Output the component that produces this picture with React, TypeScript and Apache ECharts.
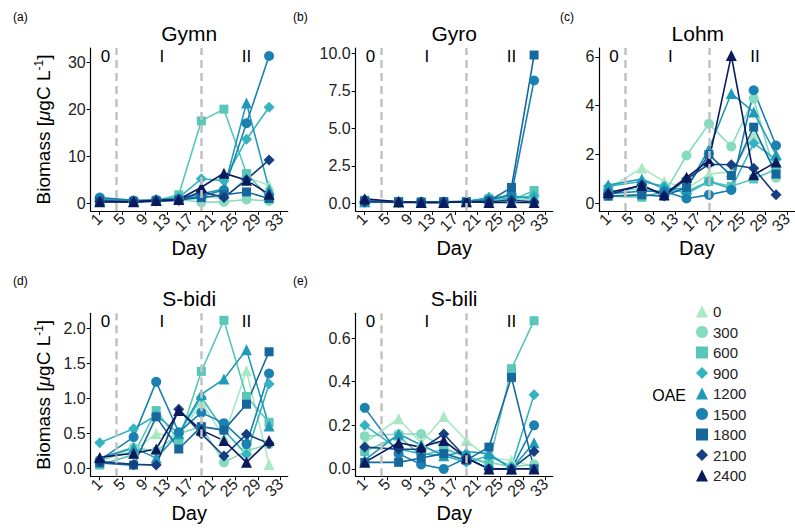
import React, { useEffect, useRef } from "react";
import * as echarts from "echarts";

// ---------- data ----------
const DAYS = [1, 7, 11, 15, 19, 23, 27, 31];
const OAE_LEVELS = ["0", "300", "600", "900", "1200", "1500", "1800", "2100", "2400"];
const X_TICKS = [1, 5, 9, 13, 17, 21, 25, 29, 33];
const PHASE_LINES = [4, 19];
const PHASE_LABELS = ["0", "I", "II"];
const PHASE_LABEL_DAYS = [2, 12, 27];

// rows follow OAE_LEVELS order, columns follow DAYS
const GYMN = [
  [0.8, 0.5, 0.7, 1.5, 1.5, 1.0, 5.5, 3.8],
  [1.0, 0.4, 0.5, 0.8, 0.2, 0.3, 0.8, 0.5],
  [0.6, 0.3, 0.6, 1.8, 17.5, 20.0, 6.3, 1.2],
  [0.9, 0.4, 0.8, 1.2, 5.2, 4.8, 13.6, 20.4],
  [0.7, 0.5, 0.6, 1.0, 2.0, 3.0, 21.3, 3.0],
  [1.2, 0.6, 0.7, 0.9, 1.5, 2.8, 17.0, 31.3],
  [0.5, 0.3, 0.4, 0.7, 1.2, 1.8, 2.4, 1.0],
  [0.4, 0.3, 0.5, 0.6, 2.5, 1.2, 5.0, 9.2],
  [0.3, 0.3, 0.6, 0.8, 3.4, 6.4, 4.9, 1.9],
];
const GYRO = [
  [0.1, 0.05, 0.05, 0.05, 0.1, 0.2, 0.1, 0.3],
  [0.15, 0.1, 0.05, 0.05, 0.1, 0.2, 0.15, 0.4],
  [0.2, 0.1, 0.1, 0.1, 0.1, 0.3, 0.2, 0.85],
  [0.05, 0.1, 0.05, 0.05, 0.1, 0.4, 0.3, 0.5],
  [0.1, 0.1, 0.1, 0.1, 0.15, 0.3, 0.5, 0.3],
  [0.2, 0.1, 0.1, 0.1, 0.1, 0.2, 0.6, 8.2],
  [0.15, 0.1, 0.05, 0.1, 0.1, 0.15, 1.05, 9.9],
  [0.1, 0.05, 0.05, 0.05, 0.1, 0.1, 0.2, 0.1],
  [0.3, 0.1, 0.05, 0.05, 0.1, 0.05, 0.05, 0.05],
];
const LOHM = [
  [0.6, 1.45, 0.9, 0.6, 1.2, 1.3, 2.8, 1.6],
  [0.5, 0.6, 0.4, 1.96, 3.26, 2.33, 4.29, 1.05],
  [0.3, 0.25, 0.5, 0.5, 0.9, 0.7, 1.0, 1.4],
  [0.7, 0.9, 0.7, 0.4, 0.9, 0.6, 2.46, 1.8],
  [0.75, 1.0, 0.6, 0.6, 2.23, 4.5, 3.74, 2.0],
  [0.4, 0.5, 0.5, 0.2, 0.35, 0.55, 4.63, 2.37],
  [0.3, 0.35, 0.3, 0.66, 2.0, 1.14, 3.12, 1.2],
  [0.35, 0.75, 0.3, 1.0, 1.6, 1.58, 1.44, 0.35],
  [0.45, 0.73, 0.36, 1.07, 1.75, 6.05, 1.17, 1.69],
];
const SBIDI = [
  [0.12, 0.25, 0.5, 0.45, 0.95, 0.45, 1.4, 0.06],
  [0.1, 0.3, 0.25, 0.5, 0.6, 0.09, 0.25, 0.35],
  [0.05, 0.2, 0.83, 0.4, 1.39, 2.12, 1.03, 0.66],
  [0.37, 0.57, 0.76, 0.5, 1.02, 0.55, 0.2, 1.21],
  [0.15, 0.3, 0.15, 0.5, 1.06, 1.28, 1.7, 0.61],
  [0.12, 0.45, 1.24, 0.52, 0.8, 0.65, 0.35, 1.36],
  [0.08, 0.05, 0.74, 0.28, 0.6, 0.55, 0.92, 1.67],
  [0.1, 0.06, 0.05, 0.85, 0.5, 0.18, 0.49, 0.36],
  [0.16, 0.22, 0.28, 0.83, 0.55, 0.4, 0.09, 0.4],
];
const SBILI = [
  [0.12, 0.23, 0.12, 0.24, 0.13, 0.05, 0.04, 0.01],
  [0.15, 0.16, 0.16, 0.1, 0.05, 0.03, 0.01, 0.02],
  [0.08, 0.15, 0.06, 0.09, 0.06, 0.02, 0.46, 0.68],
  [0.2, 0.09, 0.07, 0.06, 0.03, 0.06, 0.01, 0.34],
  [0.04, 0.16, 0.11, 0.06, 0.08, 0.07, 0.0, 0.12],
  [0.28, 0.07, 0.02, 0.0, 0.05, 0.0, 0.0, 0.2],
  [0.03, 0.03, 0.05, 0.07, 0.04, 0.1, 0.42, 0.0],
  [0.1, 0.09, 0.09, 0.16, 0.05, 0.0, 0.0, 0.08],
  [0.03, 0.12, 0.1, 0.13, 0.05, 0.0, 0.0, 0.0],
];

const GYMN_TICKS = [0, 10, 20, 30];
const GYRO_TICKS = [0, 2.5, 5, 7.5, 10];
const LOHM_TICKS = [0, 2, 4, 6];
const SBIDI_TICKS = [0, 0.5, 1, 1.5, 2];
const SBILI_TICKS = [0, 0.2, 0.4, 0.6];

// ---------- styling ----------
const COLORS = ["#a8e8c2", "#84dbbf", "#58c6b9", "#34b3c0", "#1f9bb9", "#1b81b1", "#17679f", "#143f80", "#0b1a5c"];
const SYMBOLS = ["triangle", "circle", "rect", "diamond", "triangle", "circle", "rect", "diamond", "triangle"];
const SYMBOL_SIZES: Record<string, number> = { triangle: 11, circle: 10, rect: 9, diamond: 11 };
const FONT = "'Liberation Sans', Arial, Helvetica, sans-serif";
const PW = 197;
const PH = 163;

const PANELS = [
  { title: "Gymn", tag: "(a)", tagX: 13, tagY: 17, left: 90.7, top: 48, ymin: -1.65, ymax: 33.0, ticks: GYMN_TICKS, dec: 0, data: GYMN, ylab: true },
  { title: "Gyro", tag: "(b)", tagX: 293, tagY: 17, left: 355.7, top: 48, ymin: -0.52, ymax: 10.37, ticks: GYRO_TICKS, dec: 1, data: GYRO, ylab: false },
  { title: "Lohm", tag: "(c)", tagX: 560, tagY: 17, left: 599.3, top: 48, ymin: -0.31, ymax: 6.36, ticks: LOHM_TICKS, dec: 0, data: LOHM, ylab: false },
  { title: "S-bidi", tag: "(d)", tagX: 13, tagY: 281, left: 90.7, top: 313.3, ymin: -0.11, ymax: 2.22, ticks: SBIDI_TICKS, dec: 1, data: SBIDI, ylab: true },
  { title: "S-bili", tag: "(e)", tagX: 293, tagY: 281, left: 355.7, top: 313.3, ymin: -0.034, ymax: 0.714, ticks: SBILI_TICKS, dec: 1, data: SBILI, ylab: false },
];
const XMIN = -0.6;
const XMAX = 34.3;

export default function App() {
  const ref = useRef<HTMLDivElement>(null);
  useEffect(() => {
    if (!ref.current) return;
    const chart = echarts.init(ref.current, null, { renderer: "svg" });

    const grids: any[] = [];
    const xAxes: any[] = [];
    const yAxes: any[] = [];
    const series: any[] = [];
    const graphics: any[] = [];

    PANELS.forEach((p, pi) => {
      grids.push({ left: p.left, top: p.top, width: PW, height: PH, containLabel: false });
      xAxes.push({
        type: "value",
        gridIndex: pi,
        min: XMIN,
        max: XMAX,
        name: "Day",
        nameLocation: "middle",
        nameGap: 27,
        nameTextStyle: { fontSize: 20, color: "#000", fontFamily: FONT },
        axisLine: { show: true, onZero: false, lineStyle: { color: "#000", width: 1.2 } },
        axisTick: { show: true, length: 4, customValues: X_TICKS, lineStyle: { color: "#000", width: 1 } },
        axisLabel: {
          customValues: X_TICKS,
          rotate: 45,
          margin: 5,
          fontSize: 16,
          color: "#222",
          fontFamily: FONT,
        },
        splitLine: { show: false },
      });
      yAxes.push({
        type: "value",
        gridIndex: pi,
        min: p.ymin,
        max: p.ymax,
        name: p.ylab ? "{a|Biomass [}{mu|μ}{a|gC L}{sup|-1}{a|]}" : "",
        nameLocation: "middle",
        nameGap: 36,
        nameRotate: 90,
        nameTextStyle: {
          fontFamily: FONT,
          color: "#000",
          rich: {
            a: { fontSize: 19, fontFamily: FONT, color: "#000", lineHeight: 22 },
            mu: { fontSize: 19, fontFamily: FONT, color: "#000", fontStyle: "italic", lineHeight: 22 },
            sup: { fontSize: 12, fontFamily: FONT, color: "#000", verticalAlign: "top", lineHeight: 14 },
          },
        },
        axisLine: { show: true, onZero: false, lineStyle: { color: "#000", width: 1.2 } },
        axisTick: { show: true, length: 4, customValues: p.ticks, lineStyle: { color: "#000", width: 1 } },
        axisLabel: {
          customValues: p.ticks,
          margin: 5,
          fontSize: 16,
          color: "#222",
          fontFamily: FONT,
          formatter: (v: number) => v.toFixed(p.dec),
        },
        splitLine: { show: false },
      });

      p.data.forEach((row, si) => {
        const s: any = {
          type: "line",
          name: OAE_LEVELS[si],
          xAxisIndex: pi,
          yAxisIndex: pi,
          data: DAYS.map((d, k) => [d, row[k]]),
          symbol: SYMBOLS[si],
          symbolSize: SYMBOL_SIZES[SYMBOLS[si]],
          showAllSymbol: true,
          color: COLORS[si],
          lineStyle: { color: COLORS[si], width: 1.6 },
          itemStyle: { color: COLORS[si], opacity: 1 },
          emphasis: { disabled: true },
        };
        if (si === 0) {
          s.markLine = {
            silent: true,
            symbol: "none",
            label: { show: false },
            lineStyle: { color: "#c2c2c2", type: [8, 5], width: 2.5 },
            data: PHASE_LINES.map((v) => ({ xAxis: v })),
          };
        }
        series.push(s);
      });

      graphics.push({
        type: "text",
        x: p.left + PW / 2,
        y: p.top - 15,
        style: { text: p.title, fontSize: 21, fontFamily: FONT, fill: "#000", textAlign: "center", textVerticalAlign: "middle" },
      });
      graphics.push({
        type: "text",
        x: p.tagX,
        y: p.tagY,
        style: { text: p.tag, fontSize: 12, fontFamily: FONT, fill: "#000", textAlign: "left", textVerticalAlign: "middle" },
      });
      PHASE_LABELS.forEach((lab, li) => {
        graphics.push({
          type: "text",
          x: p.left + ((PHASE_LABEL_DAYS[li] - XMIN) / (XMAX - XMIN)) * PW,
          y: p.top + 8.5,
          style: { text: lab, fontSize: 17, fontFamily: FONT, fill: "#000", textAlign: "center", textVerticalAlign: "middle" },
        });
      });
    });

    graphics.push({
      type: "text",
      x: 686,
      y: 395,
      style: { text: "OAE", fontSize: 16, fontFamily: FONT, fill: "#000", textAlign: "right", textVerticalAlign: "middle" },
    });

    chart.setOption({
      animation: false,
      grid: grids,
      xAxis: xAxes,
      yAxis: yAxes,
      series,
      graphic: graphics,
      legend: {
        orient: "vertical",
        left: 696,
        top: 304,
        padding: 0,
        itemWidth: 12,
        itemHeight: 12,
        itemGap: 5.5,
        itemTextGap: 4,
        selectedMode: false,
        textStyle: { fontSize: 15, color: "#222", fontFamily: FONT },
        data: OAE_LEVELS.map((n, i) => ({ name: n, icon: SYMBOLS[i] })),
      },
    });

    return () => chart.dispose();
  }, []);

  return <div ref={ref} style={{ width: 795, height: 530, position: "absolute", left: 0, top: 0, background: "#fff" }} />;
}
